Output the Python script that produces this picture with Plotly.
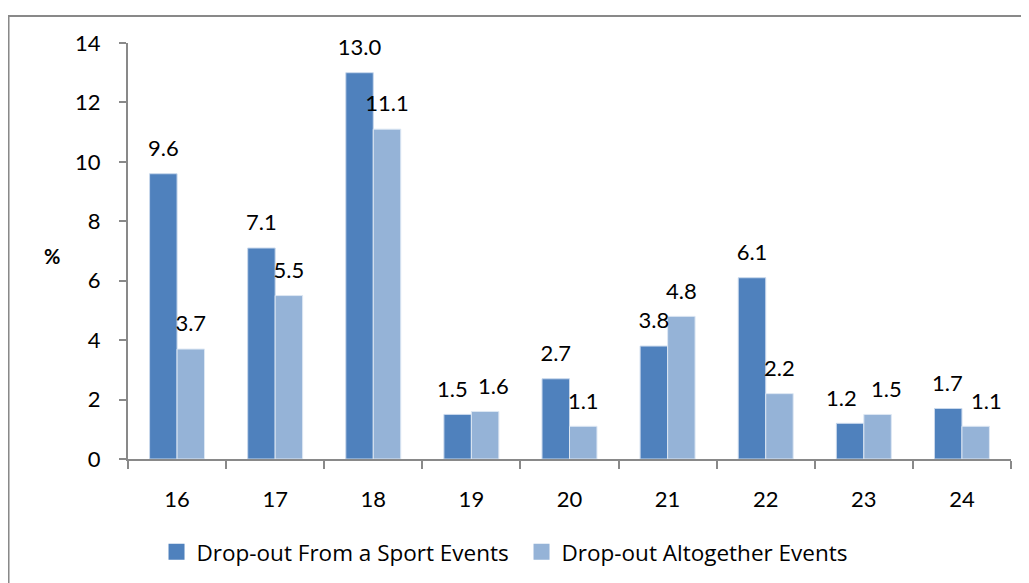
import plotly.graph_objects as go

# ages and drop-out shares (%)
ages = ["16", "17", "18", "19", "20", "21", "22", "23", "24"]
sport_events = [9.6, 7.1, 13.0, 1.5, 2.7, 3.8, 6.1, 1.2, 1.7]
altogether_events = [3.7, 5.5, 11.1, 1.6, 1.1, 4.8, 2.2, 1.5, 1.1]
y_ticks = [0, 2, 4, 6, 8, 10, 12, 14]

names = ["Drop-out From a Sport Events", "Drop-out Altogether Events"]
colors = ["#4F81BD", "#95B3D7"]
edges = ["#C9D8EC", "#DDE7F3"]
font_family = "Lato, 'Open Sans', sans-serif"

# ages where the two labels sit close -> drawn as annotations pushed apart
crowded = {"19": (-19, 22), "23": (-22, 23), "24": (-14, 25)}

data = []
annotations = []
for i, vals in enumerate([sport_events, altogether_events]):
    # bars
    data.append(go.Bar(x=ages, y=vals, name=names[i], offsetgroup=str(i),
                       marker=dict(color=colors[i], line=dict(color=edges[i], width=1)),
                       showlegend=False, hoverinfo="x+y"))
    # value labels a bit above each bar
    text = ["" if a in crowded else "%.1f" % v for a, v in zip(ages, vals)]
    data.append(go.Scatter(x=ages, y=vals, mode="markers+text", offsetgroup=str(i),
                           text=text, textposition="top center",
                           textfont=dict(size=22, color="black"),
                           marker=dict(size=18, opacity=0), cliponaxis=False,
                           showlegend=False, hoverinfo="skip"))
    for a, v in zip(ages, vals):
        if a in crowded:
            annotations.append(dict(text="%.1f" % v, x=ages.index(a), y=v, xref="x", yref="y",
                                    xanchor="center", yanchor="bottom",
                                    xshift=crowded[a][i], yshift=10, showarrow=False,
                                    font=dict(size=22, color="black")))
    # legend entry with a bigger square
    data.append(go.Scatter(x=[None], y=[None], mode="markers", name=names[i],
                           marker=dict(symbol="square", size=16, color=colors[i])))

annotations.append(dict(text="<b>%</b>", xref="paper", yref="y", x=-0.097, y=6.83,
                        showarrow=False, font=dict(size=20)))

layout = go.Layout(
    width=1029, height=583,
    margin=dict(l=120, r=26, t=35, b=132),
    paper_bgcolor="white", plot_bgcolor="white",
    font=dict(family=font_family, size=22, color="black"),
    barmode="group", bargap=0.44, bargroupgap=0,
    scattermode="group", scattergap=0.44,
    showlegend=True,
    legend=dict(orientation="h", x=0.0323, xanchor="left", y=-0.224, yanchor="middle",
                font=dict(size=22.5, family="'Open Sans', sans-serif"),
                itemwidth=30, entrywidth=320),
    xaxis=dict(type="category", categoryorder="array", categoryarray=ages,
               range=[-0.5, len(ages) - 0.5],
               showline=True, linecolor="#898989", linewidth=2, ticks="outside",
               ticklen=8, tickcolor="#898989", tickwidth=2, tickson="boundaries",
               ticklabelstandoff=20, showgrid=False, automargin=False),
    yaxis=dict(range=[0, 14], tickvals=y_ticks, showline=True, linecolor="#898989",
               linewidth=2, ticks="outside", ticklen=7, tickcolor="#898989",
               tickwidth=2, ticklabelstandoff=14, showgrid=False, zeroline=False,
               automargin=False),
    annotations=annotations,
    shapes=[dict(type="rect", xref="paper", yref="paper", x0=-0.1353, x1=1.1,
                 y0=-0.4, y1=1.065, line=dict(color="#898989", width=2),
                 fillcolor="rgba(0,0,0,0)", layer="below")],
)

fig = go.Figure(data=data, layout=layout)
fig.write_html("out.html")
